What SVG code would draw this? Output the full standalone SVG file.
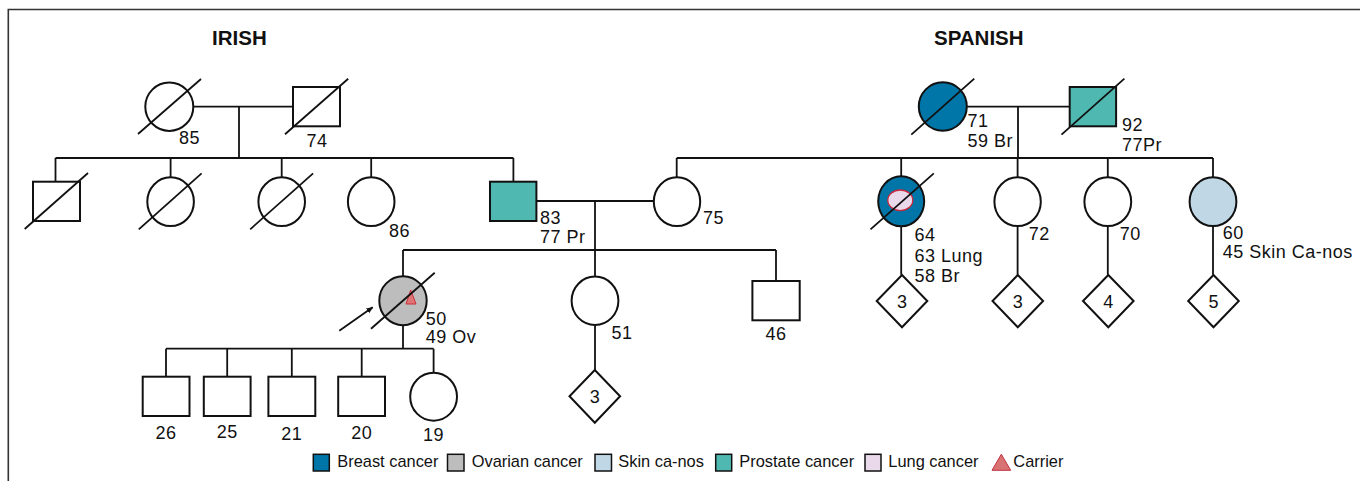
<svg xmlns="http://www.w3.org/2000/svg" width="1360" height="481" viewBox="0 0 1360 481">
<style>
.sh{stroke:#111;stroke-width:2;fill:#fff}
.ln{stroke:#111;stroke-width:1.8;fill:none}
.sl{stroke:#111;stroke-width:1.8;fill:none}
.lb{font-family:"Liberation Sans",Arial,sans-serif;font-size:18px;letter-spacing:0.5px;fill:#111}
.lg{font-family:"Liberation Sans",Arial,sans-serif;font-size:16.4px;fill:#111}
.ti{font-family:"Liberation Sans",Arial,sans-serif;font-size:20.5px;font-weight:bold;fill:#111;text-anchor:middle}
.br{fill:#0076A8}
.pr{fill:#4FB8B0}
.ov{fill:#BDBDBD}
.sk{fill:#C0D8E5}
.lu{fill:#EAD9EA}
.mid{text-anchor:middle}
</style>
<defs>
<marker id="ah" viewBox="0 0 10 10" refX="9" refY="5" markerWidth="7" markerHeight="7" markerUnits="userSpaceOnUse" orient="auto">
<path d="M0,1 L10,5 L0,9 Z" fill="#111"/>
</marker>
</defs>
<rect width="1360" height="481" fill="#fff"/>
<path d="M1360,9.5 H8.3 V481" fill="none" stroke="#333" stroke-width="1.6"/>
<text class="ti" x="239.4" y="45">IRISH</text>
<text class="ti" x="978.8" y="44.5">SPANISH</text>

<g id="connectors">
<path class="ln" d="M193,106.7 H293 M239,106.7 V158 M55.5,158 H513.4 M55.5,158 V181.7 M170.6,158 V177.3 M281.7,158 V177.3 M371.2,158 V177.3 M513.4,158 V181.7"/>
<path class="ln" d="M536.4,201 H653.5 M595,201 V250 M403,250 H776 M403,250 V276.2 M595,250 V276.5 M776,250 V281 M595,325 V370"/>
<path class="ln" d="M403,325.2 V348.7 M166,348.7 H433.6 M166,348.7 V376.7 M227.2,348.7 V376.7 M291.8,348.7 V376.7 M361.7,348.7 V376.7 M433.6,348.7 V372.7"/>
<path class="ln" d="M967,106.7 H1069.7 M1018,106.7 V158 M676.7,158 H1213 M676.7,158 V177.3 M901.2,158 V176.3 M1017.6,158 V177.3 M1107.8,158 V177.3 M1213,158 V177.3"/>
<path class="ln" d="M901.2,226.3 V274.8 M1017.6,226.3 V274.8 M1107.8,226.3 V274.8 M1213,226.3 V274.8"/>
<line class="ln" x1="339.3" y1="330.7" x2="372.7" y2="307.3" marker-end="url(#ah)"/>
</g>

<g id="irish-gf">
<ellipse class="sh" cx="169.3" cy="106.7" rx="24" ry="24.2"/>
<line class="sl" x1="138" y1="134" x2="201" y2="79"/>
<text class="lb" x="179" y="144">85</text>
</g>
<g id="irish-gm">
<rect class="sh" x="293" y="87" width="47" height="39.3"/>
<line class="sl" x1="285" y1="134.3" x2="348.2" y2="78.7"/>
<text class="lb" x="306.6" y="146.7">74</text>
</g>
<g id="irish-s1">
<rect class="sh" x="33" y="181.7" width="47" height="39.3"/>
<line class="sl" x1="24.7" y1="229" x2="88" y2="173"/>
</g>
<g id="irish-s2">
<ellipse class="sh" cx="170.6" cy="201.7" rx="23.3" ry="24.4"/>
<line class="sl" x1="138.8" y1="229.3" x2="201.6" y2="173.3"/>
</g>
<g id="irish-s3">
<ellipse class="sh" cx="281.7" cy="201.7" rx="23.3" ry="24.4"/>
<line class="sl" x1="250.2" y1="229.3" x2="313.1" y2="173.3"/>
</g>
<g id="irish-86">
<ellipse class="sh" cx="371.2" cy="201.7" rx="23.3" ry="24.4"/>
<text class="lb" x="389" y="236.7">86</text>
</g>
<g id="father-83">
<rect class="sh pr" x="490" y="181.7" width="46.4" height="39.3"/>
<text class="lb" x="540" y="224">83</text>
<text class="lb" x="540" y="243.3">77 Pr</text>
</g>
<g id="mother-75">
<ellipse class="sh" cx="677" cy="201.7" rx="23.2" ry="24.4"/>
<text class="lb" x="703" y="224">75</text>
</g>
<g id="proband-50">
<ellipse class="sh ov" cx="403" cy="300.7" rx="23.7" ry="24.5"/>
<polygon points="410.7,290 406,304 416,304" fill="#E07575" stroke="#C8303C" stroke-width="1"/>
<line class="sl" x1="371" y1="328.7" x2="434.7" y2="272.7"/>
<text class="lb" x="425.7" y="324.7">50</text>
<text class="lb" x="425.7" y="343.3">49 Ov</text>
</g>
<g id="sib-51">
<ellipse class="sh" cx="595" cy="300.8" rx="23.4" ry="24.2"/>
<text class="lb" x="611.4" y="339.3">51</text>
</g>
<g id="sib-51-children">
<polygon class="sh" points="594.8,370 620.1,396.3 594.8,422.7 569.5,396.3"/>
<text class="lb mid" x="595" y="402.5">3</text>
</g>
<g id="sib-46">
<rect class="sh" x="752.4" y="281" width="47.3" height="39.3"/>
<text class="lb mid" x="776" y="340">46</text>
</g>
<g id="child-26">
<rect class="sh" x="142.7" y="376.7" width="46.8" height="39.3"/>
<text class="lb mid" x="166" y="439">26</text>
</g>
<g id="child-25">
<rect class="sh" x="203.8" y="376.7" width="46.8" height="39.3"/>
<text class="lb mid" x="227.2" y="438.3">25</text>
</g>
<g id="child-21">
<rect class="sh" x="268.4" y="376.7" width="46.9" height="39.3"/>
<text class="lb mid" x="291.8" y="440">21</text>
</g>
<g id="child-20">
<rect class="sh" x="338.2" y="376.7" width="46.8" height="39.3"/>
<text class="lb mid" x="361.7" y="439.3">20</text>
</g>
<g id="child-19">
<ellipse class="sh" cx="433.6" cy="396.7" rx="23.4" ry="24"/>
<text class="lb mid" x="433.6" y="441">19</text>
</g>

<g id="spanish-gm">
<ellipse class="sh br" cx="942.8" cy="106.5" rx="24" ry="24.2"/>
<line class="sl" x1="911.3" y1="134.7" x2="974.3" y2="78.7"/>
<text class="lb" x="967.4" y="127.3">71</text>
<text class="lb" x="967.4" y="146.7">59 Br</text>
</g>
<g id="spanish-gf">
<rect class="sh pr" x="1069.7" y="87" width="46.4" height="39.3"/>
<line class="sl" x1="1061.5" y1="134.7" x2="1124.4" y2="78.7"/>
<text class="lb" x="1122" y="130.7">92</text>
<text class="lb" x="1122" y="150.7">77Pr</text>
</g>
<g id="aunt-64">
<ellipse class="sh br" cx="901.2" cy="201.3" rx="23" ry="25"/>
<ellipse class="lu" cx="900.3" cy="200.3" rx="12.5" ry="10.3" stroke="#C8283C" stroke-width="1.3"/>
<line class="sl" x1="870.5" y1="229.3" x2="933.8" y2="173.3"/>
<text class="lb" x="914.5" y="241">64</text>
<text class="lb" x="914.5" y="261.7">63 Lung</text>
<text class="lb" x="914.5" y="281.7">58 Br</text>
</g>
<g id="aunt-64-children">
<polygon class="sh" points="902,275 927.3,301 902,327.3 876.7,301"/>
<text class="lb mid" x="902.3" y="307.5">3</text>
</g>
<g id="aunt-72">
<ellipse class="sh" cx="1017.6" cy="201.7" rx="23.2" ry="24.4"/>
<text class="lb" x="1028.7" y="240">72</text>
</g>
<g id="aunt-72-children">
<polygon class="sh" points="1017.8,275 1043.1,301 1017.8,327.3 992.5,301"/>
<text class="lb mid" x="1018" y="307.5">3</text>
</g>
<g id="aunt-70">
<ellipse class="sh" cx="1107.8" cy="201.7" rx="23.4" ry="24.4"/>
<text class="lb" x="1119.8" y="240">70</text>
</g>
<g id="aunt-70-children">
<polygon class="sh" points="1108.3,275 1133.6,301 1108.3,327.3 1083,301"/>
<text class="lb mid" x="1108.5" y="307.5">4</text>
</g>
<g id="aunt-60">
<ellipse class="sh sk" cx="1213" cy="201.7" rx="23.4" ry="24.4"/>
<text class="lb" x="1222.7" y="239">60</text>
<text class="lb" x="1222.7" y="258.3">45 Skin Ca-nos</text>
</g>
<g id="aunt-60-children">
<polygon class="sh" points="1213.5,275 1238.8,301 1213.5,327.3 1188.2,301"/>
<text class="lb mid" x="1213.7" y="307.5">5</text>
</g>

<g id="legend">
<rect class="br" x="313.3" y="454.3" width="16" height="16.7" stroke="#111" stroke-width="1.5"/>
<text class="lg" x="337.3" y="467">Breast cancer</text>
<rect class="ov" x="447.5" y="454.3" width="16.5" height="16.7" stroke="#111" stroke-width="1.5"/>
<text class="lg" x="471.7" y="467">Ovarian cancer</text>
<rect class="sk" x="595" y="454.3" width="16.5" height="16.7" stroke="#111" stroke-width="1.5"/>
<text class="lg" x="618.3" y="467">Skin ca-nos</text>
<rect class="pr" x="715.7" y="454.3" width="16" height="16.7" stroke="#111" stroke-width="1.5"/>
<text class="lg" x="739.3" y="467">Prostate cancer</text>
<rect class="lu" x="865" y="454.3" width="16" height="16.7" stroke="#111" stroke-width="1.5"/>
<text class="lg" x="888.3" y="467">Lung cancer</text>
<polygon points="992,470.3 1001.3,454.3 1010.7,470.3" fill="#D97272" stroke="#C03040" stroke-width="1"/>
<text class="lg" x="1013.3" y="467">Carrier</text>
</g>
</svg>
